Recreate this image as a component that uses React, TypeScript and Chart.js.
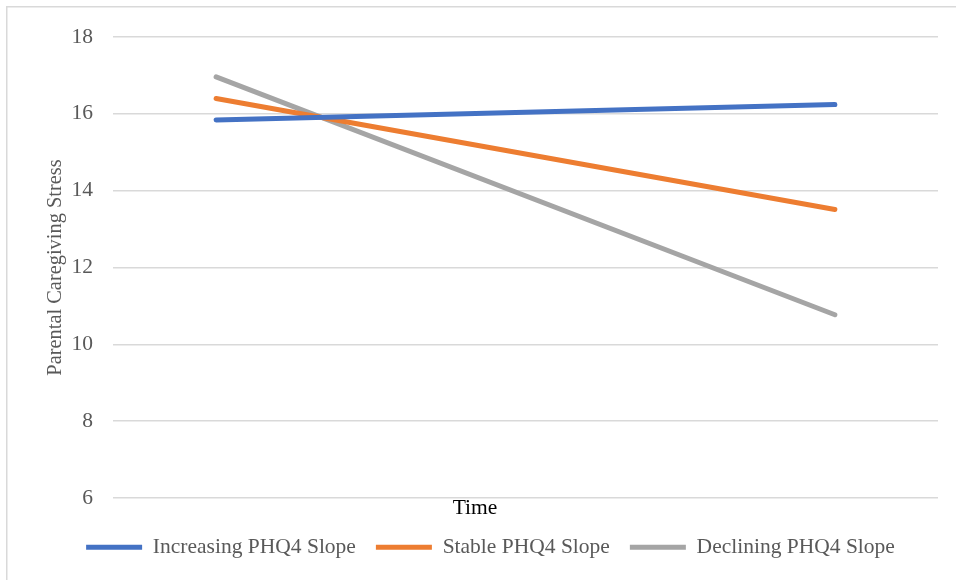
import React, { useEffect, useRef } from "react";
import { Chart, registerables } from "chart.js";

Chart.register(...registerables);

const timePoints = ["", "", "", ""];
const increasing = [15.84, null, null, 16.24];
const stable = [16.4, null, null, 13.51];
const declining = [16.96, null, null, 10.77];
const yTicks = [6, 8, 10, 12, 14, 16, 18];

const seriesNames = ["Increasing PHQ4 Slope", "Stable PHQ4 Slope", "Declining PHQ4 Slope"];
const seriesColors = ["#4472C4", "#ED7D31", "#A5A5A5"];
const xTitle = "Time";
const yTitle = "Parental Caregiving Stress";

const FONT = "'Liberation Serif', 'Times New Roman', serif";

const borderPlugin = {
  id: "outerBorder",
  beforeDraw(chart: any) {
    const ctx = chart.ctx;
    ctx.save();
    ctx.fillStyle = "#ffffff";
    ctx.fillRect(0, 0, chart.width, chart.height);
    ctx.strokeStyle = "#d9d9d9";
    ctx.lineWidth = 1.5;
    ctx.strokeRect(6.75, 6.75, chart.width + 20, chart.height + 20);
    ctx.restore();
  },
};

// Excel centres the horizontal axis title on the whole chart, not the plot area
const xTitlePlugin = {
  id: "xTitleCentered",
  afterDraw(chart: any) {
    const ctx = chart.ctx;
    const xs = chart.scales.x;
    ctx.save();
    ctx.font = `21.5px ${FONT}`;
    ctx.fillStyle = "#000000";
    ctx.textAlign = "center";
    ctx.textBaseline = "middle";
    ctx.fillText(xTitle, chart.width / 2 - 3, xs.top + 10);
    ctx.restore();
  },
};

export default function App() {
  const ref = useRef<HTMLCanvasElement>(null);
  useEffect(() => {
    const data = [increasing, stable, declining];
    const chart = new Chart(ref.current as HTMLCanvasElement, {
      type: "line",
      data: {
        labels: timePoints,
        datasets: data.map((d, i) => ({
          label: seriesNames[i],
          data: d,
          borderColor: seriesColors[i],
          backgroundColor: seriesColors[i],
          borderWidth: 5,
          borderCapStyle: "round",
          pointRadius: 0,
          pointHoverRadius: 0,
          spanGaps: true,
          tension: 0,
          pointStyle: "line",
        })),
      },
      options: {
        responsive: false,
        animation: false,
        layout: { padding: { left: 43, right: 18, top: 37, bottom: 12 } },
        plugins: {
          legend: {
            position: "bottom",
            labels: {
              usePointStyle: true,
              pointStyle: "line",
              pointStyleWidth: 56,
              font: { family: FONT, size: 21.5 },
              color: "#595959",
              padding: 20,
            },
          },
          tooltip: { enabled: false },
        },
        scales: {
          x: {
            offset: true,
            grid: { display: false, drawTicks: false },
            border: { display: false },
            ticks: { display: false },
            title: { display: false, text: xTitle },
            afterFit: (s: any) => {
              s.height = 18.5;
            },
          },
          y: {
            min: 6,
            max: 18,
            afterBuildTicks: (s: any) => {
              s.ticks = yTicks.map((v) => ({ value: v }));
            },
            grid: { color: "#d9d9d9", lineWidth: 1.5, drawTicks: false },
            border: { display: false },
            ticks: {
              font: { family: FONT, size: 21.5 },
              color: "#595959",
              padding: 20,
            },
            title: {
              display: true,
              text: yTitle,
              color: "#595959",
              font: { family: FONT, size: 20.4 },
              padding: { top: 0, bottom: -16 },
            },
          },
        },
      },
      plugins: [borderPlugin, xTitlePlugin],
    } as any);
    return () => chart.destroy();
  }, []);
  return (
    <div style={{ position: "fixed", left: 0, top: 0, width: 956, height: 580 }}>
      <canvas ref={ref} width={956} height={580} style={{ display: "block" }} />
    </div>
  );
}
